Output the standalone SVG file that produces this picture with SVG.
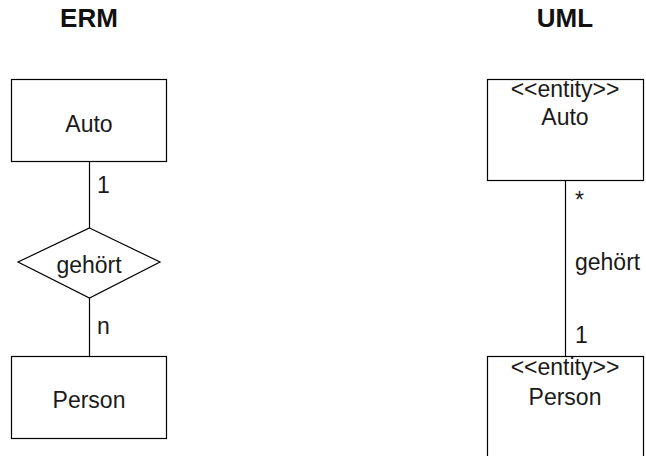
<svg xmlns="http://www.w3.org/2000/svg" width="646" height="456" viewBox="0 0 646 456">
<style>
.box{fill:#fff;stroke:#000;stroke-width:1.2}
.ln{fill:none;stroke:#000;stroke-width:1.2}
.t{font-family:"Liberation Sans",Arial,sans-serif;font-size:23px;fill:#1a1a1a}
.c{text-anchor:middle}
.h{font-family:"Liberation Sans",Arial,sans-serif;font-size:26px;font-weight:bold;fill:#111;text-anchor:middle}
</style>
<rect width="646" height="456" fill="#fff"/>
<text class="h" x="89" y="27">ERM</text>
<text class="h" x="565" y="27">UML</text>
<g id="connectors">
<line class="ln" x1="89.5" y1="161" x2="89.5" y2="228"/>
<line class="ln" x1="89.5" y1="298" x2="89.5" y2="356"/>
<line class="ln" x1="565.5" y1="180" x2="565.5" y2="356"/>
<text class="t" x="97" y="193">1</text>
<text class="t" x="97" y="334">n</text>
<text class="t" x="575" y="208">*</text>
<text class="t" x="575" y="270">gehört</text>
<text class="t" x="575" y="343">1</text>
</g>
<g id="erm-auto">
<rect class="box" x="11.5" y="79.5" width="155" height="82"/>
<text class="t c" x="89" y="132">Auto</text>
</g>
<g id="erm-gehoert">
<polygon class="box" points="89.5,228 160,262 89.5,298 18,262"/>
<text class="t c" x="89" y="273">gehört</text>
</g>
<g id="erm-person">
<rect class="box" x="11.5" y="356.5" width="155" height="82"/>
<text class="t c" x="89" y="408">Person</text>
</g>
<g id="uml-auto">
<rect class="box" x="487.5" y="79.5" width="156" height="101"/>
<text class="t c" x="565" y="97">&lt;&lt;entity&gt;&gt;</text>
<text class="t c" x="565" y="125">Auto</text>
</g>
<g id="uml-person">
<rect class="box" x="487.5" y="356.5" width="156" height="110"/>
<text class="t c" x="565" y="375">&lt;&lt;entity&gt;&gt;</text>
<text class="t c" x="565" y="405">Person</text>
</g>
</svg>
